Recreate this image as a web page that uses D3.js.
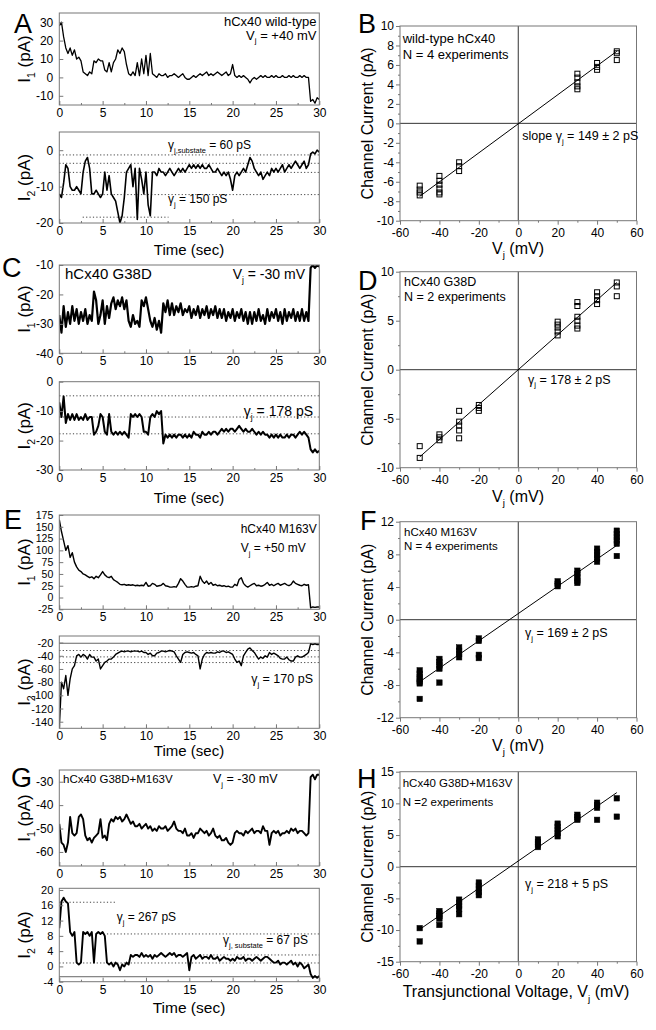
<!DOCTYPE html>
<html><head><meta charset="utf-8">
<script src="https://cdn.jsdelivr.net/npm/d3@7"></script>
<style>body{margin:0;background:#fff} svg text{font-family:"Liberation Sans",Arial,sans-serif;fill:#000}</style>
</head><body><svg id="c" width="656" height="1030"></svg>
<script>
// ---------- DATA ----------
const sampleStep = 0.25; // sec between samples
const timeTicks = [0,5,10,15,20,25,30];
const timeMinor = [2.5,7.5,12.5,17.5,22.5,27.5];

// Panel A, wild-type, Vj=+40 mV
const traceA1 = [28,30,22,16, 13,16,12,15, 10,11,9,3, 2,1,3,2, 9,8,10,9, 9,4,3,8, 3,8,10,15, 13,16,14,7,
  2,1,3,1, 8,1,10,2, 12,1,13,2, 1,0,2,1, 1,2,0,1, 1,2,1,0, 1,2,0,-1, -1,0,1,0, 1,2,1,2, 3,1,2,1,
  2,3,2,1, 2,3,1,2, 7,1,0,1, 0,1,0,-1, -3,-1,0,-1, 0,1,0,1, 0,0,1,0, 1,0,0,1, 0,0,1,0, 1,0,0,1,
  0,1,0,0, -13,-12,-14,-11, -12];
const traceA2 = [-12,-13,-9,-4, -5,-10,-11,-11, -10,-11,-12,-6, -3,-2,-5,-12, -12,-11,-12,-13, -12,-6,-11,-7,
  -12,-13,-14,-17, -20,-18,-13,-6, -5,-4,-10,-5, -19,-5,-8,-12, -6,-15,-18,-6, -6,-7,-5,-6, -6,-7,-6,-5,
  -6,-7,-6,-5, -6,-5,-6,-5, -4,-5,-4,-5, -4,-5,-4,-5, -5,-4,-5,-6, -6,-5,-6,-7, -6,-7,-6,-8, -11,-7,-6,-7,
  -6,-5,-6,-4, -2,-3,-5,-6, -7,-6,-8,-7, -6,-7,-5,-6, -5,-6,-5,-4, -6,-5,-4,-5, -4,-3,-4,-5, -4,-3,-5,-4,
  -1,-0.5,-1,0, -0.5];
const levelsA2 = [{v:-1.3,t0:0,t1:30},{v:-3.6,t0:0,t1:30},{v:-6.1,t0:0,t1:30},{v:-12.2,t0:0,t1:30},{v:-18.4,t0:2.7,t1:12.6}];

// Panel C, G38D, Vj=-30 mV
const traceC1 = [-27,-33,-24,-31, -26,-30,-24,-29, -25,-30,-26,-29, -25,-30,-27,-29, -19,-22,-30,-27, -22,-30,-24,-28,
  -23,-21,-25,-22, -24,-21,-25,-22, -29,-31,-27,-30, -29,-31,-22,-24, -21,-25,-29,-31, -28,-32,-29,-33,
  -23,-26,-22,-27, -23,-27,-24,-26, -23,-27,-25,-26, -24,-28,-25,-27, -24,-28,-25,-27, -24,-28,-25,-27,
  -24,-28,-25,-28, -25,-29,-26,-28, -25,-29,-26,-28, -25,-29,-26,-30, -26,-30,-26,-29, -25,-29,-27,-30,
  -25,-29,-26,-28, -25,-29,-26,-30, -25,-29,-26,-28, -25,-29,-26,-29, -25,-29,-26,-29, -11,-10,-11,-10, -10.5];
const traceC2 = [-7,-12,-5,-14, -11,-13,-11,-13, -11,-13,-12,-13, -11,-13,-12,-12, -18,-17,-15,-11, -12,-17,-18,-11,
  -17,-18,-17,-18, -17,-18,-17,-18, -19,-11,-12,-11, -12,-11,-12,-17, -17,-18,-12,-11, -12,-10,-11,-10,
  -21,-18,-19,-18, -19,-18,-19,-18, -18,-19,-18,-19, -18,-19,-17,-18, -18,-19,-17,-18, -18,-17,-18,-17,
  -17,-18,-17,-16, -17,-16,-17,-16, -16,-17,-16,-15, -16,-17,-16,-17, -17,-16,-17,-18, -17,-18,-17,-18,
  -18,-19,-18,-19, -18,-19,-18,-19, -19,-18,-19,-18, -18,-19,-18,-17, -18,-17,-18,-19, -23,-24,-23,-24, -23.5];
const levelsC2 = [{v:-4.8,t0:0,t1:30},{v:-12,t0:0,t1:30},{v:-17.7,t0:0,t1:30}];

// Panel E, M163V, Vj=+50 mV
const traceE1 = [165,140,120,100, 110,85,95,75, 65,58,55,50, 48,45,42,44, 40,45,42,48, 55,48,44,42,
  45,38,35,32, 28,27,28,26, 27,26,27,25, 26,25,26,25, 32,24,25,30, 28,24,25,26, 30,25,24,22,
  22,23,22,30, 40,35,28,22, 22,23,22,24, 25,45,35,30, 35,28,32,26, 28,25,26,24, 25,23,24,22,
  22,28,25,38, 42,30,25,22, 25,28,30,25, 26,24,25,28, 32,26,28,25, 28,30,26,28, 30,27,25,28,
  35,30,28,26, 25,28,26,27, -22,-20,-21,-20, -20];
const traceE2 = [-150,-80,-90,-70, -100,-75,-60,-55, -40,-38,-42,-38, -40,-45,-38,-42, -42,-48,-45,-60, -55,-50,-48,-45,
  -45,-42,-38,-36, -34,-33,-34,-33, -33,-34,-33,-33, -33,-34,-33,-35, -35,-38,-36,-40, -40,-36,-35,-33,
  -33,-34,-33,-32, -33,-34,-40,-45, -50,-38,-35,-34, -35,-36,-35,-38, -40,-60,-45,-38, -35,-36,-35,-36,
  -36,-34,-35,-33, -33,-35,-34,-36, -38,-45,-50,-48, -55,-40,-35,-30, -28,-32,-35,-40, -45,-42,-44,-40,
  -42,-35,-38,-36, -38,-40,-44,-45, -45,-42,-46,-48, -48,-42,-40,-42, -42,-40,-38,-35, -22,-23,-22,-23, -23];
const levelsE2 = [{v:-32,t0:0,t1:30},{v:-41.7,t0:0,t1:30},{v:-50.3,t0:0,t1:30}];
const solidE2 = [-21];

// Panel G, G38D+M163V, Vj=-30 mV
const traceG1 = [-48,-56,-57,-60, -56,-45,-52,-53, -52,-45,-44,-46, -53,-55,-54,-56, -54,-53,-52,-46, -54,-53,-55,-48,
  -46,-47,-45,-46, -45,-47,-46,-44, -46,-48,-47,-49, -49,-48,-50,-49, -48,-50,-49,-51, -50,-51,-49,-50,
  -50,-49,-51,-50, -49,-47,-50,-51, -51,-52,-50,-53, -53,-52,-54,-52, -52,-50,-51,-52, -51,-53,-52,-50,
  -53,-54,-53,-55, -55,-54,-56,-57, -56,-52,-51,-52, -52,-53,-51,-52, -51,-50,-52,-51, -51,-52,-49,-51,
  -51,-57,-52,-51, -52,-51,-53,-52, -52,-51,-52,-50, -51,-50,-52,-51, -51,-52,-53,-52, -28,-27,-29,-27, -27];
const traceG2 = [10,17,18,17, 16.5,9,8,9, 1,0.5,1,9, 8.5,9,8,9, 1,8.5,9,8.5, 9,8,1,0.5,
  1,0,1,0.5, -1,0.5,0,1, 0.5,3,2.5,3, 3,2.5,3.5,2.5, 3,2.5,3,2, 3,2.5,3,3.5, 3,2.5,3,3.5,
  3,3.5,2.5,3, 3,2.5,3,3.5, -1,2.5,3,2, 2.5,3,2,2.5, 2.5,2,3,2, 2,2.5,1.5,2, 2.5,2,2,1.5,
  2,1.5,2.5,2, 2,2.5,1.5,2, 2,1.5,2,2.5, 2,1.5,2,2.5, 2.5,2,1.5,1, 1,1.5,0.5,1, 1,0.5,1,1.5,
  0.5,1,0,1, 0.5,-0.5,0,0.5, -2,-3,-2.5,-3, -2.5];
const levelsG2 = [{v:16.8,t0:0,t1:6.6},{v:8.5,t0:5.5,t1:30},{v:3,t0:16.2,t1:30},{v:0.9,t0:0,t1:30}];
const solidG2 = [-2.7];

// I-V data (Vj in mV, channel current in pA)
const vB = [-50,-40,-30,30,40,50];
const iB = [[-6.4,-6.8,-7.1,-7.4],[-5.4,-5.9,-6.3,-6.7,-7.1,-7.3],[-4.0,-4.4,-4.9],[5.1,4.7,4.2,3.8,3.5],[6.2,5.8,5.5],[7.4,7.2,6.5]];
const fitB = [[-50,-7.5],[50,7.4]];

const vD = [-50,-40,-30,-20,20,30,40,50];
const iD = [[-7.8,-9.0],[-6.6,-6.9,-7.2],[-4.2,-5.3,-5.7,-6.2,-7.0],[-3.6,-3.9,-4.2],[4.9,4.6,4.3,3.9,3.5],[6.9,6.5,5.4,5.0,4.5,4.2],[7.9,7.5,7.1,6.7],[8.9,8.5,7.5]];
const fitD = [[-50,-8.9],[50,8.9]];

const vF = [-50,-40,-30,-20,20,30,40,50];
const iF = [[-6.2,-6.6,-7.0,-7.3,-7.6,-7.8,-9.7],[-4.8,-5.2,-5.6,-6.0,-7.7],[-3.4,-3.8,-4.2,-4.6],[-2.3,-2.6,-4.3,-4.7],[4.7,4.4,4.1],[6.0,5.6,5.2,4.8,4.5],[8.7,8.3,7.9,7.5,7.1],[10.9,10.5,10.1,9.7,9.3,7.8]];
const fitF = [[-50,-7.6],[50,9.1]];

const vH = [-50,-40,-30,-20,10,20,30,40,50];
const iH = [[-9.7,-11.8],[-7.0,-7.4,-7.8,-8.2,-9.2],[-5.2,-5.7,-6.2,-6.7,-7.5],[-2.5,-3.0,-3.5,-4.0,-4.5],[4.3,3.9,3.5,3.1],[6.8,6.3,5.8,5.3,4.8],[8.2,7.8,7.4],[10.1,9.7,9.3,7.4],[10.8,7.9]];
const fitH = [[-50,-9.9],[50,11.7]];

// ---------- DRAWING ----------
const svg = d3.select('#c');
const FRAME = '#777';
let clipN = 0;

function txt(x, y, parts, size, anchor='start', rot=false){
  const t = svg.append('text').attr('x',x).attr('y',y).attr('font-size',size).attr('text-anchor',anchor);
  if(rot) t.attr('transform',`rotate(-90,${x},${y})`);
  let shifted = 0;
  parts.forEach(p=>{
    const s = t.append('tspan').text(p[0]);
    if(p[1]){ const d = size*0.3 - shifted; s.attr('font-size',size*0.62).attr('dy',d); shifted = size*0.3; }
    else if(shifted){ s.attr('dy',-shifted); shifted = 0; }
  });
  return t;
}

function styleAxis(a, fs, col){
  a.select('.domain').remove();
  a.selectAll('line').attr('stroke',col);
  a.selectAll('text').attr('font-size',fs).attr('font-family','"Liberation Sans",Arial,sans-serif').attr('fill','#000');
}

const L = 59.3, R = 319.3;
function tracePanel(o){
  const x = d3.scaleLinear().domain([0,30]).range([L,R]);
  const y = d3.scaleLinear().domain(o.yDom).range([o.bottom,o.top]);
  const g = svg.append('g');
  const id = 'clip'+(clipN++);
  svg.append('clipPath').attr('id',id).append('rect').attr('x',L).attr('y',o.top).attr('width',R-L).attr('height',o.bottom-o.top);
  (o.dotted||[]).forEach(d=>{
    g.append('line').attr('x1',x(d.t0)).attr('x2',x(d.t1)).attr('y1',y(d.v)).attr('y2',y(d.v))
      .attr('stroke','#444').attr('stroke-width',1).attr('stroke-dasharray','1.2,2.2');
  });
  (o.solid||[]).forEach(v=>{
    g.append('line').attr('x1',L).attr('x2',R).attr('y1',y(v)).attr('y2',y(v)).attr('stroke','#666').attr('stroke-width',1);
  });
  g.append('path').datum(o.data).attr('clip-path',`url(#${id})`)
    .attr('d', d3.line().x((d,i)=>x(i*sampleStep)).y(d=>y(d)))
    .attr('fill','none').attr('stroke','#000').attr('stroke-width',o.sw||1.2).attr('stroke-linejoin','round');
  g.append('rect').attr('x',L).attr('y',o.top).attr('width',R-L).attr('height',o.bottom-o.top)
    .attr('fill','none').attr('stroke',FRAME).attr('stroke-width',1);
  const ax = g.append('g').attr('transform',`translate(0,${o.bottom})`)
    .call(d3.axisBottom(x).tickValues(timeTicks).tickSize(-4).tickPadding(3.5).tickFormat(d=>String(d)));
  styleAxis(ax, 12, FRAME);
  const axm = g.append('g').attr('transform',`translate(0,${o.bottom})`)
    .call(d3.axisBottom(x).tickValues(timeMinor).tickSize(-2).tickFormat(''));
  styleAxis(axm, 12, FRAME);
  const ay = g.append('g').attr('transform',`translate(${L},0)`)
    .call(d3.axisLeft(y).tickValues(o.yTicks).tickSize(-4).tickPadding(6).tickFormat(d=>String(d)));
  styleAxis(ay, o.yFont||12, FRAME);
  txt(30, (o.top+o.bottom)/2, [['I'],[o.sub,true],[' (pA)']], 17, 'middle', true);
}

const IVL = 400, IVR = 636.5;
function ivPanel(o){
  const x = d3.scaleLinear().domain([-60,60]).range([IVL,IVR]);
  const y = d3.scaleLinear().domain(o.yDom).range([o.bottom,o.top]);
  const g = svg.append('g');
  g.append('line').attr('x1',x(0)).attr('x2',x(0)).attr('y1',o.top).attr('y2',o.bottom).attr('stroke','#333');
  g.append('line').attr('x1',IVL).attr('x2',IVR).attr('y1',y(0)).attr('y2',y(0)).attr('stroke','#333');
  g.append('line').attr('x1',x(o.fit[0][0])).attr('y1',y(o.fit[0][1])).attr('x2',x(o.fit[1][0])).attr('y2',y(o.fit[1][1]))
    .attr('stroke','#000').attr('stroke-width',1);
  const pts = o.v.flatMap((v,i)=>o.i[i].map(c=>[v,c]));
  const s = o.filled ? 5.5 : 5;
  g.selectAll('rect.pt').data(pts).join('rect').attr('class','pt')
    .attr('x',d=>x(d[0])-s/2).attr('y',d=>y(d[1])-s/2).attr('width',s).attr('height',s)
    .attr('fill',o.filled?'#000':'none').attr('stroke','#000').attr('stroke-width',o.filled?0.5:1);
  g.append('rect').attr('x',IVL).attr('y',o.top).attr('width',IVR-IVL).attr('height',o.bottom-o.top)
    .attr('fill','none').attr('stroke',FRAME);
  const ax = g.append('g').attr('transform',`translate(0,${o.bottom})`)
    .call(d3.axisBottom(x).tickValues([-60,-40,-20,0,20,40,60]).tickSize(4).tickPadding(4).tickFormat(d=>String(d)));
  styleAxis(ax, 12, FRAME);
  const axm = g.append('g').attr('transform',`translate(0,${o.bottom})`)
    .call(d3.axisBottom(x).tickValues([-50,-30,-10,10,30,50]).tickSize(2).tickFormat(''));
  styleAxis(axm, 12, FRAME);
  const ay = g.append('g').attr('transform',`translate(${IVL},0)`)
    .call(d3.axisLeft(y).tickValues(o.yTicks).tickSize(4).tickPadding(2).tickFormat(d=>String(d)));
  styleAxis(ay, 12, FRAME);
  const aym = g.append('g').attr('transform',`translate(${IVL},0)`)
    .call(d3.axisLeft(y).tickValues(o.yMinor).tickSize(2).tickFormat(''));
  styleAxis(aym, 12, FRAME);
  txt(373, (o.top+o.bottom)/2, [['Channel Current (pA)']], 16, 'middle', true);
}

// Panel A
tracePanel({top:13,bottom:105,yDom:[-15,35],yTicks:[-10,0,10,20,30],data:traceA1,sub:'1',sw:1.3});
tracePanel({top:132,bottom:223,yDom:[-20,5],yTicks:[-20,-10,0],data:traceA2,sub:'2',dotted:levelsA2,sw:1.6});
// Panel C
tracePanel({top:265,bottom:353.3,yDom:[-40,-10],yTicks:[-40,-30,-20,-10],data:traceC1,sub:'1',sw:2.2});
tracePanel({top:381.7,bottom:470,yDom:[-30,0],yTicks:[-30,-20,-10,0],data:traceC2,sub:'2',dotted:levelsC2,sw:2});
// Panel E
tracePanel({top:515,bottom:609.3,yDom:[-25,175],yTicks:[-25,0,25,50,75,100,125,150,175],yFont:10.5,data:traceE1,sub:'1',sw:1.4});
tracePanel({top:636,bottom:728.3,yDom:[-150,-10],yTicks:[-140,-120,-100,-80,-60,-40,-20],yFont:11,data:traceE2,sub:'2',dotted:levelsE2,solid:solidE2,sw:1.4});
// Panel G
tracePanel({top:770,bottom:866,yDom:[-66,-25],yTicks:[-60,-50,-40,-30],data:traceG1,sub:'1',sw:1.9});
tracePanel({top:888.3,bottom:981.7,yDom:[-4,20.45],yTicks:[-4,0,4,8,12,16,20],yFont:11,data:traceG2,sub:'2',dotted:levelsG2,solid:solidG2,sw:1.9});

// IV panels
ivPanel({top:26,bottom:220.7,yDom:[-10,10],yTicks:[-10,-8,-6,-4,-2,0,2,4,6,8,10],yMinor:[-9,-7,-5,-3,-1,1,3,5,7,9],v:vB,i:iB,fit:fitB});
ivPanel({top:271.7,bottom:467.7,yDom:[-10,10],yTicks:[-10,-5,0,5,10],yMinor:[-7.5,-2.5,2.5,7.5],v:vD,i:iD,fit:fitD});
ivPanel({top:521.7,bottom:717.7,yDom:[-12,12],yTicks:[-12,-8,-4,0,4,8,12],yMinor:[-10,-6,-2,2,6,10],v:vF,i:iF,fit:fitF,filled:true});
ivPanel({top:771.7,bottom:961.7,yDom:[-15,15],yTicks:[-15,-10,-5,0,5,10,15],yMinor:[-12.5,-7.5,-2.5,2.5,7.5,12.5],v:vH,i:iH,fit:fitH,filled:true});

// Axis titles
txt(189,255,[['Time (sec)']],15,'middle');
txt(189,503,[['Time (sec)']],15,'middle');
txt(189,756,[['Time (sec)']],15,'middle');
txt(189,1013,[['Time (sec)']],15.5,'middle');
txt(518,253.5,[['V'],['j',true],[' (mV)']],16,'middle');
txt(518,501.5,[['V'],['j',true],[' (mV)']],16,'middle');
txt(518,750.5,[['V'],['j',true],[' (mV)']],16,'middle');
txt(516,997,[['Transjunctional Voltage, V'],['j',true],[' (mV)']],16,'middle');

// Panel letters
[['A',14,33],['B',358,33],['C',2,277],['D',358,290],['E',4,529],['F',360,530],['G',11,787],['H',357,788]]
  .forEach(d=>txt(d[1],d[2],[[d[0]]],27));

// Annotations
txt(316.5,25.5,[['hCx40 wild-type']],13,'end');
txt(316.5,39.5,[['V'],['j',true],[' = +40 mV']],13,'end');
txt(168,149,[['γ'],['j,substate',true],[' = 60 pS']],12);
txt(168,203,[['γ'],['j',true],[' = 150 pS']],12);

txt(65,279,[['hCx40 G38D']],15);
txt(305,279,[['V'],['j',true],[' = -30 mV']],14,'end');
txt(313,415.5,[['γ'],['j',true],[' = 178 pS']],14,'end');

txt(240.7,533,[['hCx40 M163V']],12);
txt(240.7,552,[['V'],['j',true],[' = +50 mV']],12);
txt(313,683,[['γ'],['j',true],[' = 170 pS']],12.5,'end');

txt(63,783,[['hCx40 G38D+M163V']],11.5);
txt(213,783,[['V'],['j',true],[' = -30 mV']],12.5);
txt(116.7,921,[['γ'],['j',true],[' = 267 pS']],12);
txt(223,944,[['γ'],['j, substate',true],[' = 67 pS']],12);

txt(402.7,43,[['wild-type hCx40']],13);
txt(402.7,59,[['N = 4 experiments']],13);
txt(522.3,140,[['slope γ'],['j',true],[' = 149 ± 2 pS']],12.5);

txt(404,285.7,[['hCx40 G38D']],12.5);
txt(404,301.3,[['N = 2 experiments']],12.5);
txt(528,383.5,[['γ'],['j',true],[' = 178 ± 2 pS']],12.5);

txt(404,535.5,[['hCx40 M163V']],11.5);
txt(404,549.5,[['N = 4 experiments']],11.5);
txt(525,637,[['γ'],['j',true],[' = 169 ± 2 pS']],12.5);

txt(402.7,787,[['hCx40 G38D+M163V']],11.5);
txt(402.7,806,[['N =2 experiments']],11.5);
txt(525,888,[['γ'],['j',true],[' = 218 + 5 pS']],12.5);
</script></body></html>
